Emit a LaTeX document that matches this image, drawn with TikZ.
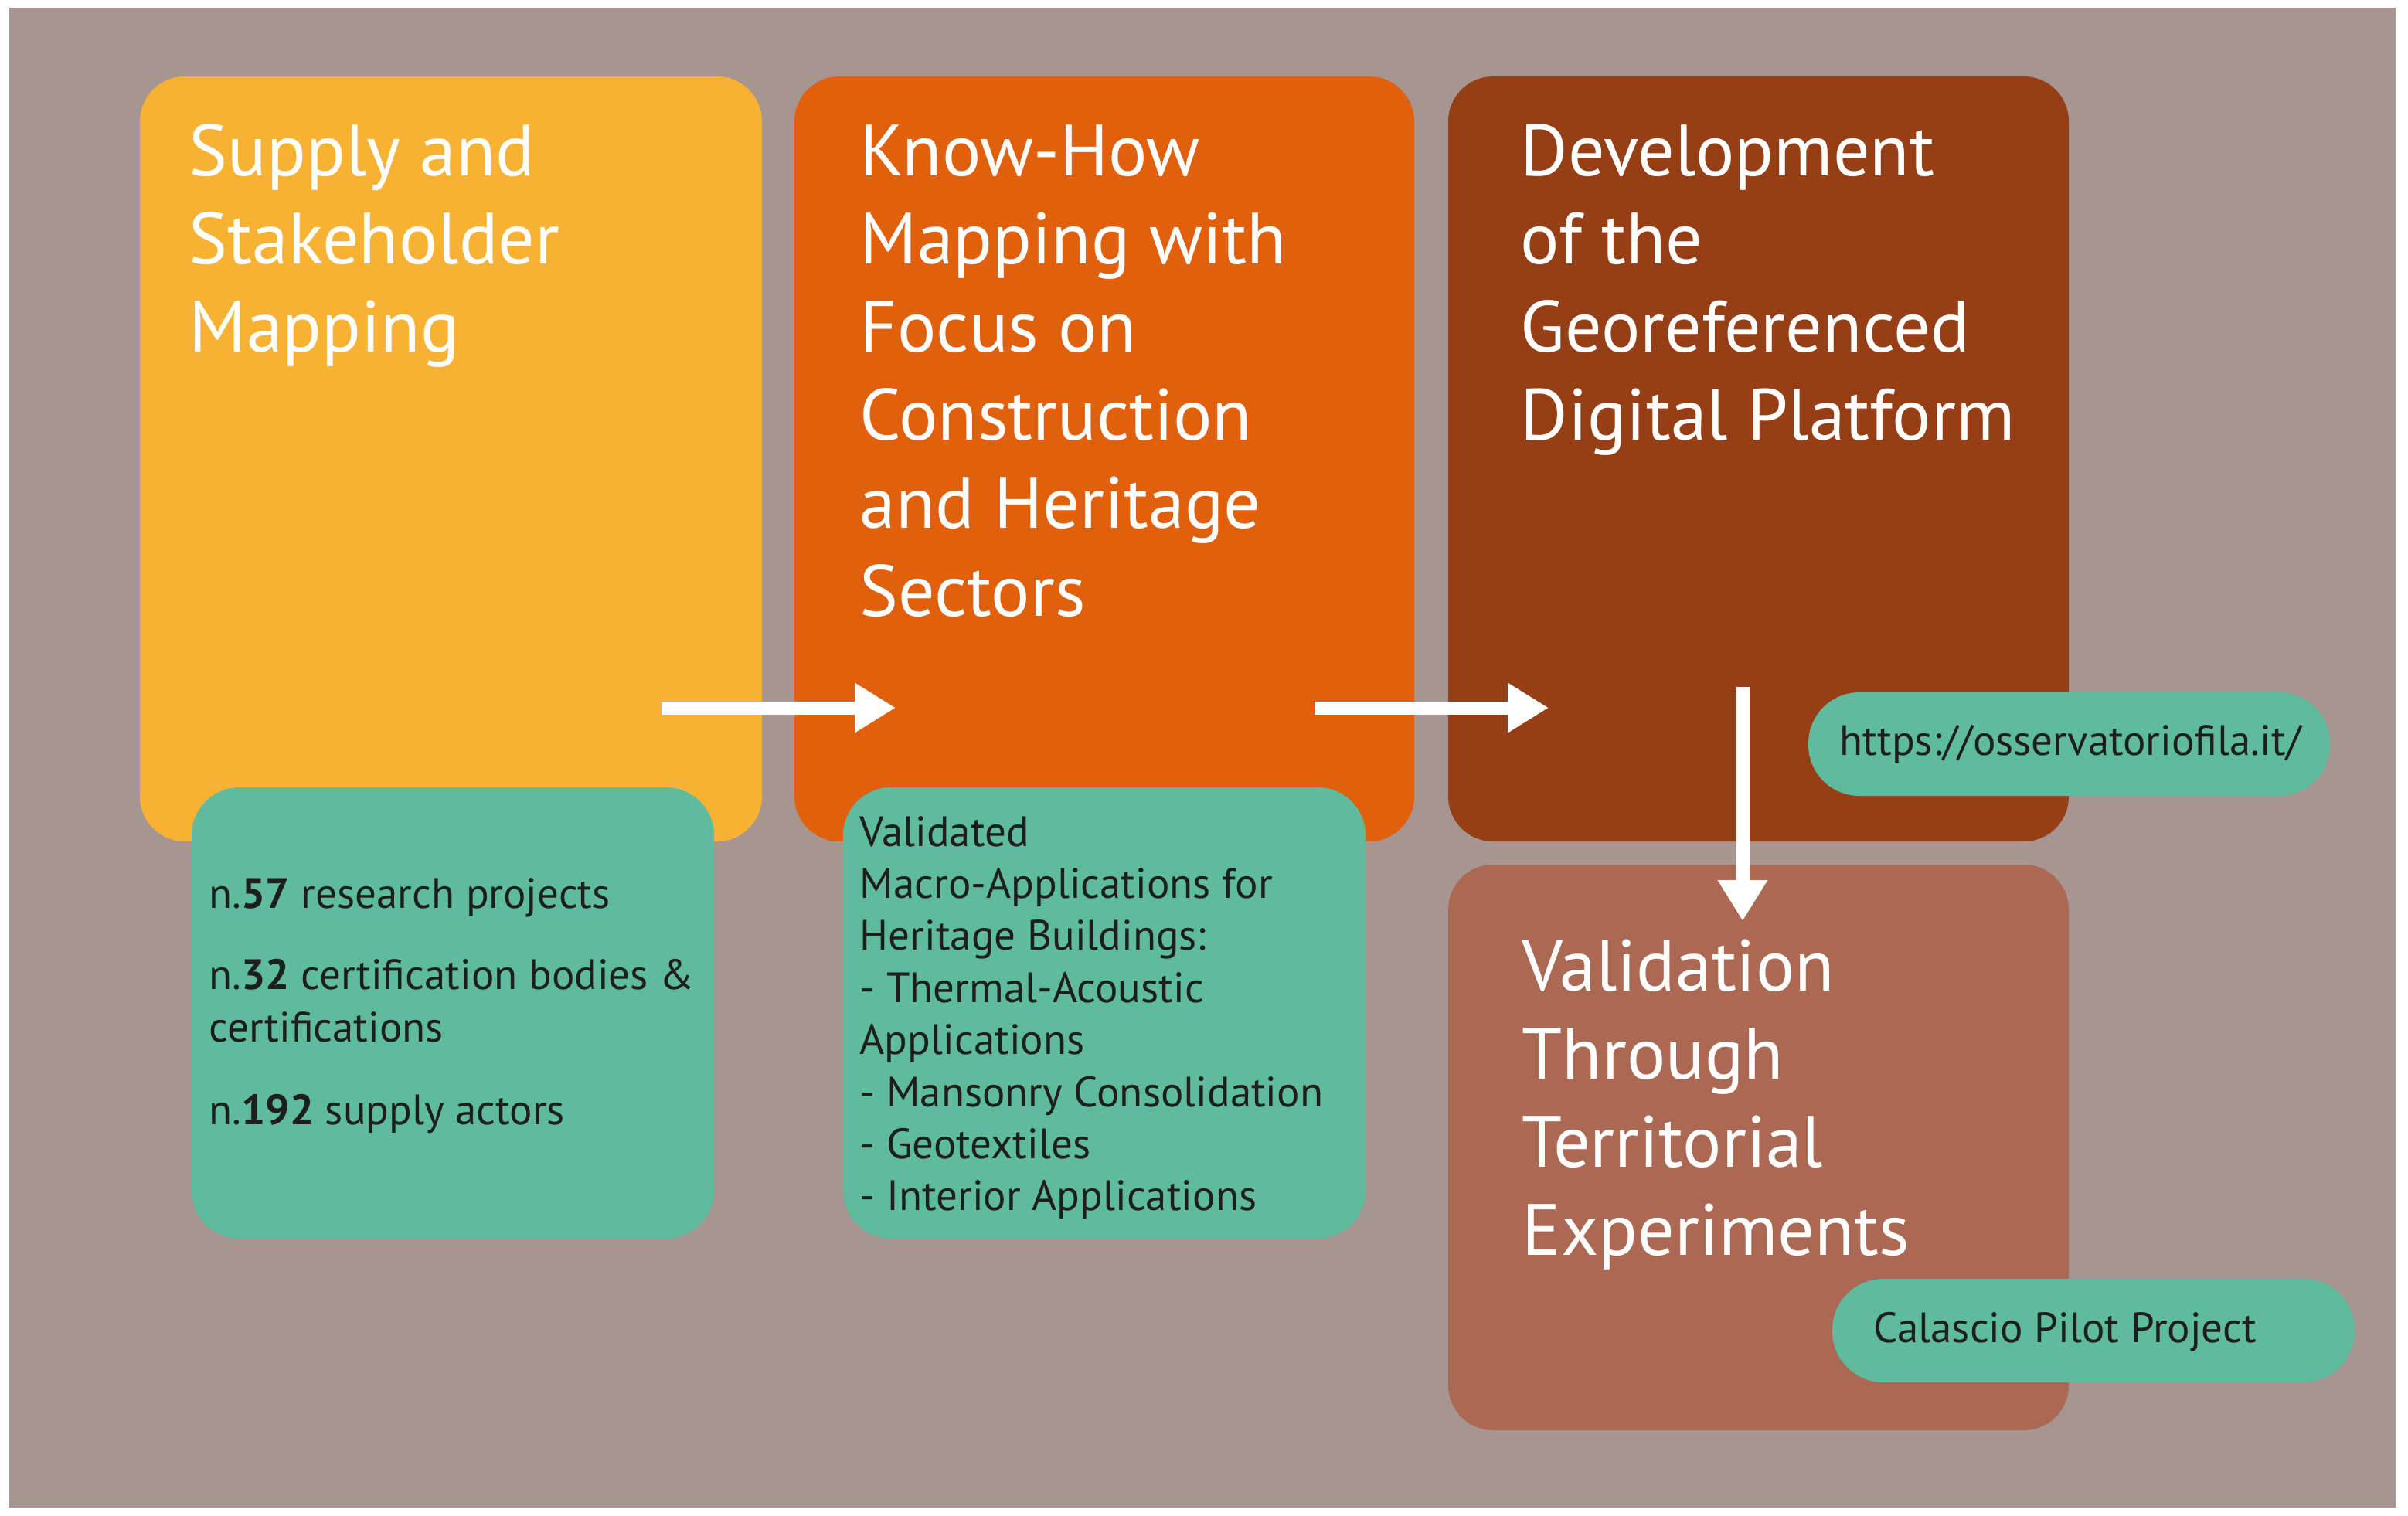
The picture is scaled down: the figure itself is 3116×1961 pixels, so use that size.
\documentclass[tikz,border=0pt]{standalone}
\usepackage{fontspec}
\setmainfont{PT Sans}
\usetikzlibrary{arrows.meta}
\definecolor{bggray}{HTML}{A69590}
\definecolor{cyellow}{HTML}{F8B233}
\definecolor{corange}{HTML}{E1600E}
\definecolor{cdbrown}{HTML}{963F16}
\definecolor{clbrown}{HTML}{AB6954}
\definecolor{cteal}{HTML}{5FBB9D}
\definecolor{ctext}{HTML}{1E1E1C}
\begin{document}
\begin{tikzpicture}[x=0.25pt,y=-0.25pt,
  card/.style={rectangle, rounded corners=14.5pt, inner sep=0pt, outer sep=0pt, anchor=north west, draw=none},
  tealcard/.style={card, fill=cteal, rounded corners=15.5pt},
  pill/.style={card, fill=cteal, rounded corners=16.5pt},
  title/.style={anchor=base west, inner sep=0pt, text=white, font=\fontsize{23.5}{28.5}\selectfont},
  body/.style={anchor=base west, inner sep=0pt, text=ctext, font=\fontsize{13.75}{16.9}\selectfont},
  flow/.style={draw=white, line width=4.25pt, line cap=butt, -{Triangle[length=13.25pt,width=15.25pt]}}]
\useasboundingbox (0,0) rectangle (3116,1961);
\fill[white] (0,0) rectangle (3116,1961);
\fill[bggray] (12,10) rectangle (3100,1951);
% main cards
\node[card, fill=cyellow, minimum width=201.25pt, minimum height=247.5pt] (b1) at (181,99) {};
\node[card, fill=corange, minimum width=200.5pt, minimum height=247.5pt] (b2) at (1028,99) {};
\node[card, fill=cdbrown, minimum width=200.75pt, minimum height=247.5pt] (b3) at (1874,99) {};
\node[card, fill=clbrown, minimum width=200.75pt, minimum height=183pt] (b4) at (1874,1119) {};
% teal cards
\node[tealcard, minimum width=169pt, minimum height=146pt] (t1) at (248,1019) {};
\node[tealcard, minimum width=169pt, minimum height=146pt] (t2) at (1091,1019) {};
% arrows
\coordinate (a1s) at (856,916); \coordinate (a1e) at (1159,916);
\coordinate (a2s) at (1701,916); \coordinate (a2e) at (2004,916);
\coordinate (a3s) at (2255,889); \coordinate (a3e) at (2255,1192);
\draw[flow] (a1s) -- (a1e);
\draw[flow] (a2s) -- (a2e);
\draw[flow] (a3s) -- (a3e);
% pills
\node[pill, minimum width=168.75pt, minimum height=33.5pt] (url) at (2340,896) {};
\node[pill, minimum width=169pt, minimum height=33.5pt] (cal) at (2371,1655) {};
% titles
\foreach \t [count=\i] in {Supply and,Stakeholder,Mapping}
  \node[title] (h1l\i) at (244,{227+114*(\i-1)}) {\t};
\foreach \t [count=\i] in {Know-How,Mapping with,Focus on,Construction,and Heritage,Sectors}
  \node[title] (h2l\i) at (1112,{227+114*(\i-1)}) {\t};
\foreach \t [count=\i] in {Development,of the,Georeferenced,Digital Platform}
  \node[title] (h3l\i) at (1967,{227+114*(\i-1)}) {\t};
\foreach \t [count=\i] in {Validation,Through,Territorial,Experiments}
  \node[title] (h4l\i) at (1969,{1282+114*(\i-1)}) {\t};
% teal 1 text
\node[body] (p1a) at (270,1175) {n.\textbf{57} research projects};
\node[body] (p1b) at (270,1280) {n.\textbf{32} certification bodies \&};
\node[body] (p1c) at (270,1348) {certifications};
\node[body] (p1d) at (270,1455) {n.\textbf{192} supply actors};
% teal 2 text
\foreach \t [count=\i] in {Validated,Macro-Applications for,Heritage Buildings:,- Thermal-Acoustic,Applications,- Mansonry Consolidation,- Geotextiles,- Interior Applications}
  \node[body] (p2l\i) at (1112,{1095+67.4*(\i-1)}) {\t};
% pill texts
\node[body] (urltext) at (2380,977) {https://osservatoriofila.it/};
\node[body] (caltext) at (2424,1737) {Calascio Pilot Project};
\end{tikzpicture}
\end{document}
